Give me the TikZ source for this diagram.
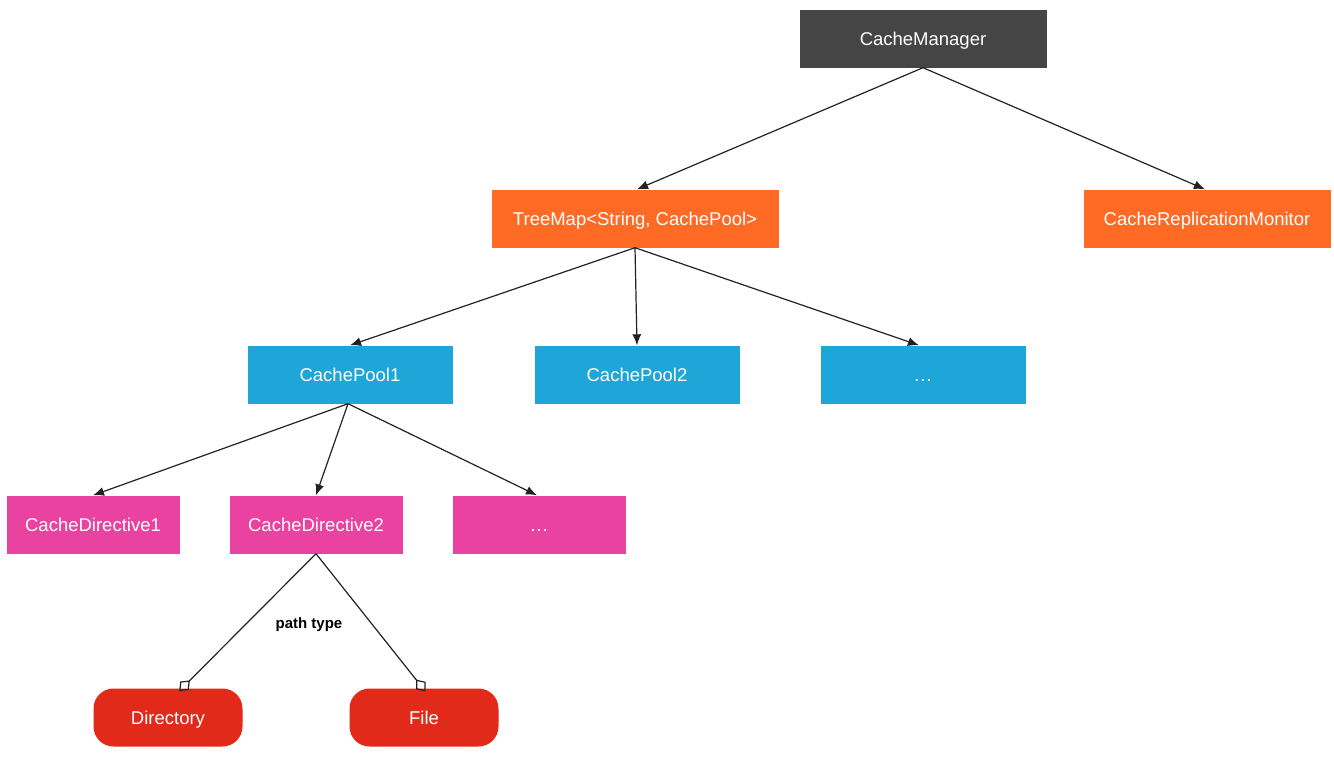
\documentclass[tikz,border=0pt]{standalone}
\usepackage{fontspec}
\setmainfont{Liberation Sans}
\usetikzlibrary{arrows.meta}

\definecolor{mgrdark}{HTML}{454545}
\definecolor{maporange}{HTML}{FF6A24}
\definecolor{poolblue}{HTML}{1DA6D7}
\definecolor{dirpink}{HTML}{EA42A0}
\definecolor{typered}{HTML}{E12A1A}
\definecolor{linegray}{HTML}{222222}

\tikzstyle{block} = [rectangle, minimum height=58pt, text=white, inner sep=0pt, text height=15pt, text depth=2pt, font=\fontsize{18.5}{22}\selectfont]
\tikzstyle{manager} = [block, fill=mgrdark, minimum width=247pt]
\tikzstyle{treemap} = [block, fill=maporange]
\tikzstyle{pool}    = [block, fill=poolblue, minimum width=205pt]
\tikzstyle{directive} = [block, fill=dirpink, minimum width=173pt]
\tikzstyle{pathtype}  = [block, fill=typered, minimum width=149pt, rounded corners=20pt]
\tikzstyle{arrow}   = [line width=1.2pt, draw=linegray, -{Latex[length=11pt,width=9pt]}]
\tikzstyle{diam}    = [line width=1.2pt, draw=linegray, -{Diamond[open,scale length=1.5,scale width=2.4]}, shorten >=-4pt]

\begin{document}
\begin{tikzpicture}[x=1pt, y=-1pt]
\useasboundingbox (0,0) rectangle (1334,764);

\node (manager) [manager] at (923,38.5) {CacheManager};
\node (treemap) [treemap, minimum width=287pt] at (635,218.5) {TreeMap<String, CachePool>};
\node (monitor) [treemap, minimum width=247pt] at (1207,218.5) {CacheReplicationMonitor};

\node (pool1)    [pool] at (350,374.5) {CachePool1};
\node (pool2)    [pool] at (637,374.5) {CachePool2};
\node (pooldots) [pool] at (923,374.5) {.\kern1pt.\kern1pt.};

\node (directive1) [directive] at (93,524.5)  {CacheDirective1};
\node (directive2) [directive] at (316,524.5) {CacheDirective2};
\node (dirdots)    [directive] at (539,524.5) {.\kern1pt.\kern1pt.};

\node (directory) [pathtype] at (168,717.5) {Directory};
\node (file)      [pathtype] at (424,717.5) {File};

\node (typelabel) at (309,625) {\fontsize{15}{18}\selectfont\bfseries path type};

\draw [arrow] (manager.south) -- ([xshift=2pt]treemap.north);
\draw [arrow] (manager.south) -- ([xshift=-2pt]monitor.north);
\draw [arrow] (treemap.south) -- (pool1.north);
\draw [arrow] (treemap.south) -- (pool2.north);
\draw [arrow] (treemap.south) -- ([xshift=-4pt]pooldots.north);
\draw [arrow] ([xshift=-2pt]pool1.south) -- (directive1.north);
\draw [arrow] ([xshift=-2pt]pool1.south) -- (directive2.north);
\draw [arrow] ([xshift=-2pt]pool1.south) -- ([xshift=-2pt]dirdots.north);
\draw [diam] (directive2.south) -- ([xshift=14pt]directory.north);
\draw [diam] (directive2.south) -- ([xshift=-1pt]file.north);
\end{tikzpicture}
\end{document}
